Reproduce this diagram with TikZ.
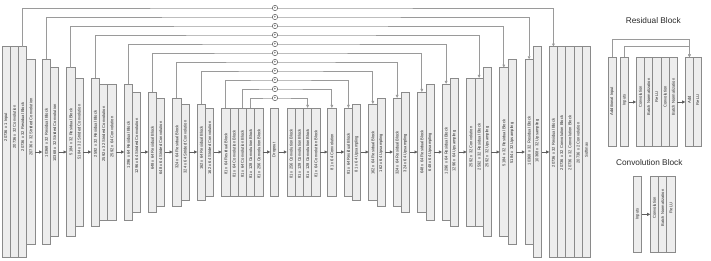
\documentclass[tikz,border=0pt]{standalone}
\usepackage{fontspec}
\setmainfont{Liberation Sans}
\usetikzlibrary{arrows.meta}
\definecolor{barfill}{HTML}{EDEDED}
\definecolor{barline}{HTML}{8A8A8A}
\definecolor{skipc}{HTML}{9A9A9A}
\definecolor{flowc}{HTML}{5F5F5F}
\definecolor{txtc}{HTML}{2A2A2A}
\tikzset{
 barbox/.style={draw=barline, fill=barfill, line width=0.7pt, minimum width=8.25pt, inner sep=0pt, outer sep=0pt, rectangle},
 bartext/.style={rotate=90, font=\fontsize{4.1}{5}\selectfont, text=txtc, inner sep=0pt},
 flow/.style={draw=flowc, line width=0.8pt, -{Triangle[length=3.2pt,width=3pt]}},
 skipline/.style={draw=skipc, line width=0.7pt, -{Triangle[length=3pt,width=2.6pt]}},
 plusnode/.style={circle, draw=flowc, fill=white, line width=0.5pt, minimum size=5.4pt, inner sep=0pt, font=\fontsize{4}{4}\selectfont},
 titletext/.style={font=\fontsize{8.3}{9}\selectfont, text=txtc, inner sep=0pt}
}
% name, group start, index, half height, text y, text
\newcommand\bx[6]{%
 \node[barbox, minimum height={2*#4*1pt}] (#1) at ({#2+#3*8.25+4.125},152) {};
 \node[bartext] (#1t) at ({#2+#3*8.25+4.125},#5) {#6};}
% name, left x, centre y, half height, text y, text
\newcommand\lbx[6]{%
 \node[barbox, minimum height={2*#4*1pt}] (#1) at ({#2+4.125},#3) {};
 \node[bartext] (#1t) at ({#2+4.125},#5) {#6};}
\begin{document}
\begin{tikzpicture}[x=1pt,y=-1pt]
\useasboundingbox (0,0) rectangle (711,261);
% ---- encoder ----
\bx{a1}{2}{0}{105.3}{127}{20736 x 1 Input}
\bx{a2}{2}{1}{105.3}{127}{20736 x 32 Convolution}
\bx{a3}{2}{2}{105.3}{127}{20736 x 32 Residual Block}
\bx{a4}{2}{3}{92.7}{127}{20736 x 32 Strided Convolution}
\bx{b1}{42.3}{0}{92.7}{133}{10368 x 32 Residual Block}
\bx{b2}{42.3}{1}{84.3}{133}{10368 x 32 Strided Convolution}
\bx{c1}{66.7}{0}{84.3}{132}{5184 x 32 Residual Block}
\bx{c2}{66.7}{1}{74}{132}{5184 x 32 Strided Convolution}
\bx{d1}{91.3}{0}{74}{134}{2592 x 32 Residual Block}
\bx{d2}{91.3}{1}{68}{134}{2592 x 32 Strided Convolution}
\bx{d3}{91.3}{2}{68}{137}{2592 x 64 Convolution}
\bx{e1}{124.3}{0}{68}{145}{1296 x 64 Residual Block}
\bx{e2}{124.3}{1}{60}{146}{1296 x 64 Strided Convolution}
\bx{f1}{148.3}{0}{60}{148}{648 x 64 Residual Block}
\bx{f2}{148.3}{1}{54}{148}{648 x 64 Strided Convolution}
\bx{g1}{172.7}{0}{54}{147}{324 x 64 Residual Block}
\bx{g2}{172.7}{1}{48}{147}{324 x 64 Strided Convolution}
\bx{h1}{197.3}{0}{48}{148}{162 x 64 Residual Block}
\bx{h2}{197.3}{1}{44}{148}{162 x 64 Strided Convolution}
% ---- bottleneck ----
\bx{i1}{221.7}{0}{44}{154}{81 x 64 Residual Block}
\bx{i2}{221.7}{1}{44}{154}{81 x 64 Convolution Block}
\bx{i3}{221.7}{2}{44}{154}{81 x 64 Convolution Block}
\bx{i4}{221.7}{3}{44}{154}{81 x 128 Convolution Block}
\bx{i5}{221.7}{4}{44}{154}{81 x 256 Convolution Block}
\bx{j1}{270.3}{0}{44}{150}{Dropout}
\bx{k1}{287}{0}{44}{154}{81 x 256 Convolution Block}
\bx{k2}{287}{1}{44}{154}{81 x 128 Convolution Block}
\bx{k3}{287}{2}{44}{154}{81 x 128 Convolution Block}
\bx{k4}{287}{3}{44}{154}{81 x 64 Convolution Block}
\bx{l1}{327.7}{0}{44}{152}{81 x 64 Convolution}
% ---- decoder ----
\bx{m1}{344.3}{0}{44}{154}{81 x 64 Residual Block}
\bx{m2}{344.3}{1}{48}{154}{81 x 64 Upsampling}
\bx{n1}{368.7}{0}{48}{153}{162 x 64 Residual Block}
\bx{n2}{368.7}{1}{54}{153}{162 x 64 Upsampling}
\bx{o1}{393}{0}{54}{153}{324 x 64 Residual Block}
\bx{o2}{393}{1}{60}{153}{324 x 64 Upsampling}
\bx{q1}{417.7}{0}{60}{152}{648 x 64 Residual Block}
\bx{q2}{417.7}{1}{68}{152}{648 x 64 Upsampling}
\bx{r1}{442}{0}{68}{151}{1296 x 64 Residual Block}
\bx{r2}{442}{1}{74}{151}{1296 x 64 Upsampling}
\bx{s1}{466.7}{0}{74}{147}{2592 x 32 Convolution}
\bx{s2}{466.7}{1}{74}{147}{2592 x 32 Residual Block}
\bx{s3}{466.7}{2}{84.3}{147}{2592 x 32 Upsampling}
\bx{t1}{499.7}{0}{84.3}{143}{5184 x 32 Residual Block}
\bx{t2}{499.7}{1}{92.7}{143}{5184 x 32 Upsampling}
\bx{u1}{525}{0}{92.7}{141}{10368 x 32 Residual Block}
\bx{u2}{525}{1}{105.3}{141}{10368 x 32 Upsampling}
\bx{v1}{549.3}{0}{105.3}{143}{20736 x 32 Residual Block}
\bx{v2}{549.3}{1}{105.3}{143}{20736 x 32 Convolution Block}
\bx{v3}{549.3}{2}{105.3}{143}{20736 x 32 Convolution Block}
\bx{v4}{549.3}{3}{105.3}{143}{20736 x 2 Convolution}
\bx{v5}{549.3}{4}{105.3}{150}{Softmax}
% ---- flow arrows ----
\foreach \p/\q in {a4/b1,b2/c1,c2/d1,d3/e1,e2/f1,f2/g1,g2/h1,h2/i1,i5/j1,j1/k1,k4/l1,l1/m1,m2/n1,n2/o1,o2/q1,q2/r1,r2/s1,s3/t1,t2/u1,u2/v1}
  \draw[flow] (\p.east) -- (\q.west);
% ---- skip connections ----
\foreach \n/\yy in {1/8,2/17,3/26,4/35,5/44,6/53,7/62,8/71,9/80,10/89,11/98}
  \coordinate (lv\n) at (275,\yy);
\foreach \p/\q/\n in {a3/v1/1,b1/u1/2,c1/t1/3,d1/s2/4,e1/r1/5,f1/q1/6,g1/o1/7,h1/n1/8,i1/m1/9,i3/l1/10,i4/k3/11}
  \draw[skipline] (\p.north) |- (lv\n) -| (\q.north);
\foreach \n in {1,...,11}
  \node[plusnode] (pl\n) at (lv\n) {+};
% ---- legend: residual block ----
\node[titletext] (rtitle) at (653.3,21) {Residual Block};
\lbx{ra}{608}{102}{44.7}{101}{Additional Input}
\lbx{rb}{620.5}{102}{44.7}{100}{Inputs}
\lbx{rc1}{636.2}{102}{44.7}{97}{Convolution}
\lbx{rc2}{644.45}{102}{44.7}{97}{Batch Normalization}
\lbx{rc3}{652.7}{102}{44.7}{97}{ReLU}
\lbx{rc4}{660.95}{102}{44.7}{97}{Convolution}
\lbx{rc5}{669.2}{102}{44.7}{97}{Batch Normalization}
\lbx{rd1}{685.3}{102}{44.7}{100}{Add}
\lbx{rd2}{693.55}{102}{44.7}{100}{ReLU}
\draw[skipline] (ra.north) -- ++(0,-18) -| (rd1.north);
\draw[skipline] (rb.north) -- ++(0,-11.3) -| (rd1.north);
\draw[flow] (rb.east) -- (rc1.west);
\draw[flow] (rc5.east) -- (rd1.west);
% ---- legend: convolution block ----
\node[titletext] (ctitle) at (649.3,162.7) {Convolution Block};
\lbx{cb}{633.5}{214.35}{37.65}{214}{Inputs}
\lbx{cc1}{650.3}{214.35}{37.65}{208}{Convolution}
\lbx{cc2}{658.55}{214.35}{37.65}{208}{Batch Normalization}
\lbx{cc3}{666.8}{214.35}{37.65}{208}{ReLU}
\draw[flow] (cb.east) -- (cc1.west);
\end{tikzpicture}
\end{document}
